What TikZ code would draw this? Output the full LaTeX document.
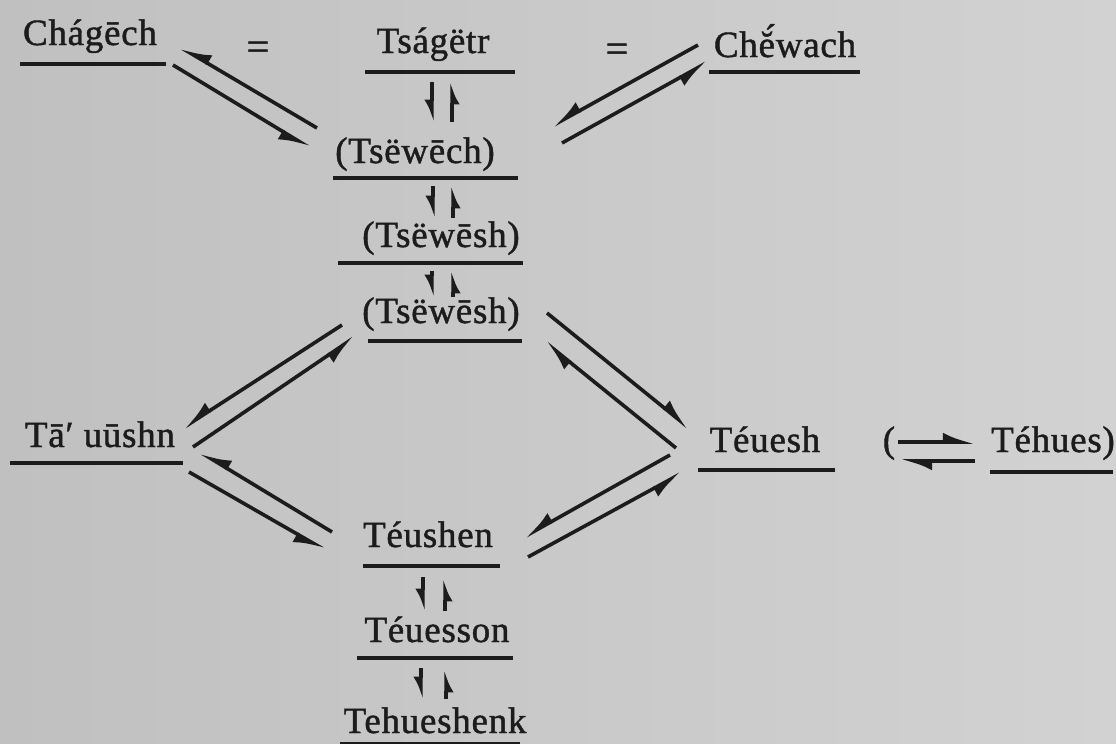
\documentclass[tikz,border=0pt]{standalone}
\usepackage{fontspec}
\setmainfont{Liberation Serif}[LetterSpace=2, FakeBold=1.2]
\usetikzlibrary{arrows.meta}
\definecolor{ink}{HTML}{1C1C1C}
\definecolor{paperL}{HTML}{C0C0C0}
\definecolor{paperR}{HTML}{D2D2D2}
\tikzset{
  term/.style={anchor=base, inner sep=0pt, text=ink, font=\fontsize{37}{44}\selectfont},
  sign/.style={anchor=base, inner sep=0pt, text=ink, font=\fontsize{40}{48}\selectfont},
  bar/.style={draw=ink, line width=3.4pt},
  hr/.style={draw=ink, line width=3.6pt, -{Latex[right, length=25pt, width=19pt]}},
  hl/.style={draw=ink, line width=3.6pt, -{Latex[left, length=25pt, width=19pt]}},
  vr/.style={draw=ink, line width=4pt, -{Latex[right, length=17pt, width=16pt]}},
}
\begin{document}
\begin{tikzpicture}[x=1pt, y=-1pt]
\shade[left color=paperL, right color=paperR] (0,0) rectangle (1116,744);
\useasboundingbox (0,0) rectangle (1116,744);

% terms
\node[term] (chagech) at (90,45) {Chágēch};
\node[term] (tsagetr) at (433,53) {Tságëtr};
\node[term] (chewach) at (785,57) {Che\symbol{"0306}\symbol{"0301}wach};
\node[term] (tsewech) at (415,163) {(Tsëwēch)};
\node[term] (tseweshA) at (441,247) {(Tsëwēsh)};
\node[term] (tseweshB) at (441,323) {(Tsëwēsh)};
\node[term] (tauushn) at (100,447) {Tā′ uūshn};
\node[term] (teuesh) at (765,452) {Téuesh};
\node[term] (lpar) at (889,452) {(};
\node[term] (tehues) at (1053,452) {Téhues)};
\node[term] (teushen) at (428,547) {Téushen};
\node[term] (teuesson) at (437,642) {Téuesson};
\node[term] (tehueshenk) at (435,733) {Tehueshenk};

% equality signs
\node[sign] (eqL) at (258,60) {=};
\node[sign] (eqR) at (617,62) {=};

% underlines
\draw[bar] (20,64) -- (166,64);
\draw[bar] (365,72) -- (515,72);
\draw[bar] (709,72) -- (860,72);
\draw[bar] (333,178) -- (518,178);
\draw[bar] (338,263) -- (523,263);
\draw[bar] (368,341) -- (522,341);
\draw[bar] (10,463) -- (183,463);
\draw[bar] (698,470) -- (835,470);
\draw[bar] (990,472) -- (1113,472);
\draw[bar] (363,566) -- (500,566);
\draw[bar] (357,658) -- (513,658);
\draw[bar] (340,744) -- (520,744);

% arrow end points
\coordinate (c1a) at (317,128); \coordinate (c1b) at (180,47);
\coordinate (c2a) at (173,65);  \coordinate (c2b) at (310,148);
\coordinate (w1a) at (698,45);  \coordinate (w1b) at (552,126);
\coordinate (w2a) at (562,143); \coordinate (w2b) at (708,62);
\coordinate (s1a) at (342,325); \coordinate (s1b) at (183,428);
\coordinate (s2a) at (193,447); \coordinate (s2b) at (355,337);
\coordinate (t1a) at (332,532); \coordinate (t1b) at (200,452);
\coordinate (t2a) at (189,472); \coordinate (t2b) at (325,550);
\coordinate (e1a) at (547,313); \coordinate (e1b) at (689,428);
\coordinate (e2a) at (676,448); \coordinate (e2b) at (545,342);
\coordinate (u1a) at (670,455); \coordinate (u1b) at (524,537);
\coordinate (u2a) at (528,557); \coordinate (u2b) at (682,473);
\coordinate (h1a) at (898,442); \coordinate (h1b) at (975,442);
\coordinate (h2a) at (975,461); \coordinate (h2b) at (900,461);

% diagonal equilibria
\draw[hr] (c1a) -- (c1b);
\draw[hr] (c2a) -- (c2b);
\draw[hr] (w1a) -- (w1b);
\draw[hr] (w2a) -- (w2b);
\draw[hr] (s1a) -- (s1b);
\draw[hr] (s2a) -- (s2b);
\draw[hr] (t1a) -- (t1b);
\draw[hr] (t2a) -- (t2b);
\draw[hl] (e1a) -- (e1b);
\draw[hl] (e2a) -- (e2b);
\draw[hr] (u1a) -- (u1b);
\draw[hr] (u2a) -- (u2b);
\draw[hl] (h1a) -- (h1b);
\draw[hl] (h2a) -- (h2b);

% vertical equilibria
\draw[vr] (432,82) -- (432,122);
\draw[vr] (452,122) -- (452,82);
\draw[vr] (433,186) -- (433,218);
\draw[vr] (453,218) -- (453,186);
\draw[vr] (432,271) -- (432,297);
\draw[vr] (453,297) -- (453,271);
\draw[vr] (423,577) -- (423,611);
\draw[vr] (445,611) -- (445,579);
\draw[vr] (421,668) -- (421,699);
\draw[vr] (446,699) -- (446,670);
\end{tikzpicture}
\end{document}
